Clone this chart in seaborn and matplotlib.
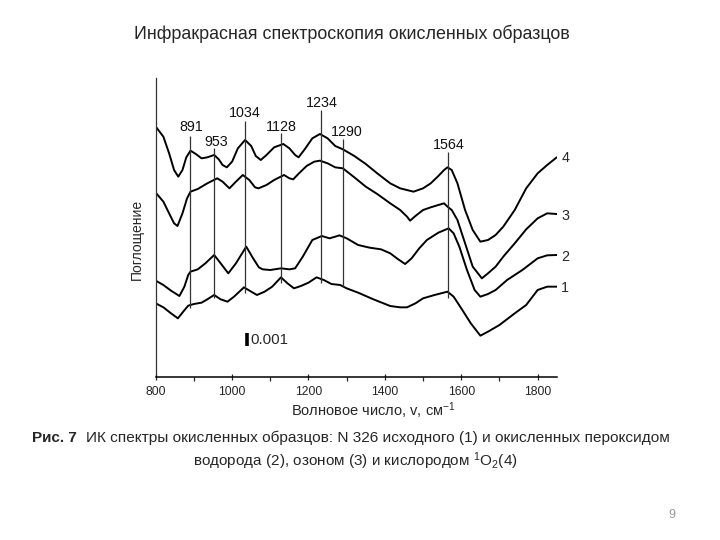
import numpy as np
import pandas as pd
import matplotlib
matplotlib.use("Agg")
import matplotlib.pyplot as plt
import seaborn as sns

# ---- data (wavenumber, absorbance in arbitrary units) ----
w4 = [800, 820, 835, 848, 859, 870, 880, 891, 905, 920, 935, 953, 965, 975, 986, 1000, 1015, 1034, 1050, 1062,
      1075, 1090, 1110, 1134, 1150, 1165, 1174, 1190, 1210, 1230, 1250, 1270, 1290, 1320, 1350, 1380, 1414, 1440,
      1475, 1500, 1520, 1540, 1555, 1564, 1575, 1590, 1610, 1630, 1650, 1670, 1690, 1710, 1740, 1770, 1800, 1825, 1850]
a4 = [751, 721, 671, 621, 601, 621, 659, 679, 669, 656, 659, 666, 653, 636, 629, 646, 686, 711, 693, 663,
      651, 666, 689, 699, 686, 666, 659, 683, 716, 729, 716, 693, 683, 663, 639, 611, 581, 566,
      556, 566, 581, 603, 621, 629, 621, 581, 501, 441, 406, 411, 426, 451, 501, 566, 611, 636, 659]

w3 = [800, 820, 835, 848, 857, 870, 882, 891, 910, 935, 961, 975, 993, 1010, 1028, 1045, 1060, 1069, 1090, 1110,
      1136, 1150, 1160, 1175, 1195, 1215, 1230, 1250, 1270, 1290, 1320, 1350, 1380, 1414, 1440, 1458, 1466, 1480,
      1500, 1520, 1540, 1555, 1564, 1575, 1590, 1610, 1630, 1654, 1670, 1690, 1710, 1740, 1770, 1800, 1825, 1850]
a3 = [553, 526, 491, 461, 453, 491, 536, 556, 564, 581, 596, 586, 566, 586, 606, 591, 569, 566, 576, 591,
      606, 596, 593, 611, 633, 646, 649, 641, 629, 626, 599, 571, 549, 521, 501, 481, 469, 483,
      501, 509, 516, 521, 511, 501, 471, 401, 331, 296, 311, 331, 361, 401, 443, 476, 491, 489]

w2 = [800, 820, 840, 862, 875, 885, 891, 910, 930, 953, 970, 990, 1010, 1037, 1055, 1070, 1080, 1100, 1128, 1150,
      1165, 1185, 1210, 1235, 1255, 1270, 1281, 1300, 1330, 1360, 1390, 1414, 1435, 1453, 1470, 1490, 1510, 1540,
      1567, 1580, 1595, 1615, 1635, 1650, 1670, 1690, 1720, 1760, 1800, 1825, 1850]
a2 = [289, 276, 259, 243, 271, 306, 316, 323, 341, 366, 341, 311, 341, 391, 356, 329, 323, 321, 326, 323,
      326, 361, 411, 423, 416, 421, 425, 416, 396, 388, 383, 371, 353, 339, 356, 386, 411, 433,
      446, 431, 391, 321, 261, 241, 249, 261, 291, 321, 356, 365, 366]

w1 = [800, 820, 840, 858, 872, 885, 900, 920, 935, 953, 970, 988, 1005, 1031, 1050, 1065, 1085, 1105, 1128, 1145,
      1162, 1180, 1200, 1221, 1240, 1260, 1283, 1300, 1330, 1370, 1414, 1440, 1458, 1480, 1500, 1530, 1564, 1580,
      1600, 1625, 1650, 1670, 1700, 1740, 1770, 1800, 1825, 1850]
a1 = [221, 209, 191, 176, 196, 214, 219, 223, 233, 246, 233, 226, 241, 269, 256, 246, 256, 271, 299, 281,
      266, 273, 283, 299, 291, 279, 276, 266, 253, 233, 213, 209, 209, 221, 236, 246, 256, 241,
      206, 161, 124, 136, 156, 191, 216, 261, 271, 271]

series_names = ["4", "3", "2", "1"]
series_label_y = [656, 483, 361, 266]

peak_pos = [891, 953, 1034, 1128, 1234, 1290, 1564]
peak_line_top = [723, 686, 769, 733, 801, 713, 676]
peak_line_bottom = [206, 236, 251, 281, 281, 271, 236]
peak_text = ["891", "953", "1034", "1128", "1234", "1290", "1564"]
peak_text_x = [894, 958, 1034, 1130, 1235, 1300, 1567]
peak_text_y = [749, 706, 791, 751, 821, 736, 696]

x_ticks = [800, 1000, 1200, 1400, 1600, 1800]
x_minor = [900, 1100, 1300, 1500, 1700]

scale_x = 1039
scale_bottom, scale_top = 93, 131
scale_text = "0.001"

# ---- build long table ----
frames = []
for name, ws, As in zip(series_names, [w4, w3, w2, w1], [a4, a3, a2, a1]):
    frames.append(pd.DataFrame({"w": ws, "a": As, "series": name}))
df = pd.concat(frames, ignore_index=True)

sns.set_theme(style="white")
plt.rcParams["font.family"] = ["Liberation Sans", "DejaVu Sans"]
plt.rcParams["mathtext.fontset"] = "custom"
plt.rcParams["mathtext.rm"] = "Liberation Sans"
plt.rcParams["mathtext.it"] = "Liberation Sans:italic"
plt.rcParams["mathtext.bf"] = "Liberation Sans:bold"

fig = plt.figure(figsize=(7.2, 5.4), dpi=100)
ax = fig.add_axes([0.2163, 1 - 377 / 540, 401 / 720, 299 / 540])

sns.lineplot(data=df, x="w", y="a", units="series", estimator=None, sort=False,
             color="black", linewidth=1.4, ax=ax, legend=False)

ax.vlines(peak_pos, peak_line_bottom, peak_line_top, color="#333333", linewidth=0.9)
for t, x, y in zip(peak_text, peak_text_x, peak_text_y):
    ax.text(x, y, t, ha="center", va="center", fontsize=10.3, color="#111111")

for name, y in zip(series_names, series_label_y):
    ax.text(1862, y, name, ha="left", va="center", fontsize=10.3, clip_on=False)

ax.vlines([scale_x], [scale_bottom], [scale_top], color="black", linewidth=2.6)
ax.text(scale_x + 10, (scale_bottom + scale_top) / 2, scale_text, ha="left", va="center", fontsize=10.8)

ax.set_xlim(800, 1850)
ax.set_ylim(0, 897)
ax.set_xticks(x_ticks)
ax.set_xticks(x_minor, minor=True)
ax.set_xticklabels([str(v) for v in x_ticks], fontsize=8.8)
ax.set_yticks([])
ax.tick_params(axis="x", which="major", direction="inout", length=5, width=0.9, pad=4, bottom=True)
ax.tick_params(axis="x", which="minor", direction="out", length=3, width=0.9, bottom=True)
for s in ["top", "right"]:
    ax.spines[s].set_visible(False)
ax.spines["bottom"].set_linewidth(1.1)
ax.spines["left"].set_linewidth(0.9)
ax.spines["bottom"].set_color("black")
ax.spines["left"].set_color("#333333")
ax.set_xlabel("")
ax.set_ylabel("")

# axis labels as figure texts
fig.text(373 / 720, 1 - 411 / 540, "Волновое число, v, см$^{-1}$", ha="center", va="center", fontsize=10.5)
fig.text(137 / 720, 1 - 239 / 540, "Поглощение", ha="center", va="center", rotation=90, fontsize=10)

# title
fig.text(351.5 / 720, 1 - 34 / 540, "Инфракрасная спектроскопия окисленных образцов",
         ha="center", va="center", fontsize=12.9)

# caption
fig.text(32 / 720, 1 - 438 / 540, "Рис. 7", ha="left", va="center", fontsize=11, fontweight="bold")
fig.text(86 / 720, 1 - 438 / 540, "ИК спектры окисленных образцов: N 326 исходного (1) и окисленных пероксидом",
         ha="left", va="center", fontsize=11.1)
fig.text(355 / 720, 1 - 461 / 540, "водорода (2), озоном (3) и кислородом $^1$O$_2$(4)",
         ha="center", va="center", fontsize=11)

fig.text(672 / 720, 1 - 515 / 540, "9", ha="center", va="center", fontsize=9, color="#999999")

fig.savefig("out.png", dpi=100)
